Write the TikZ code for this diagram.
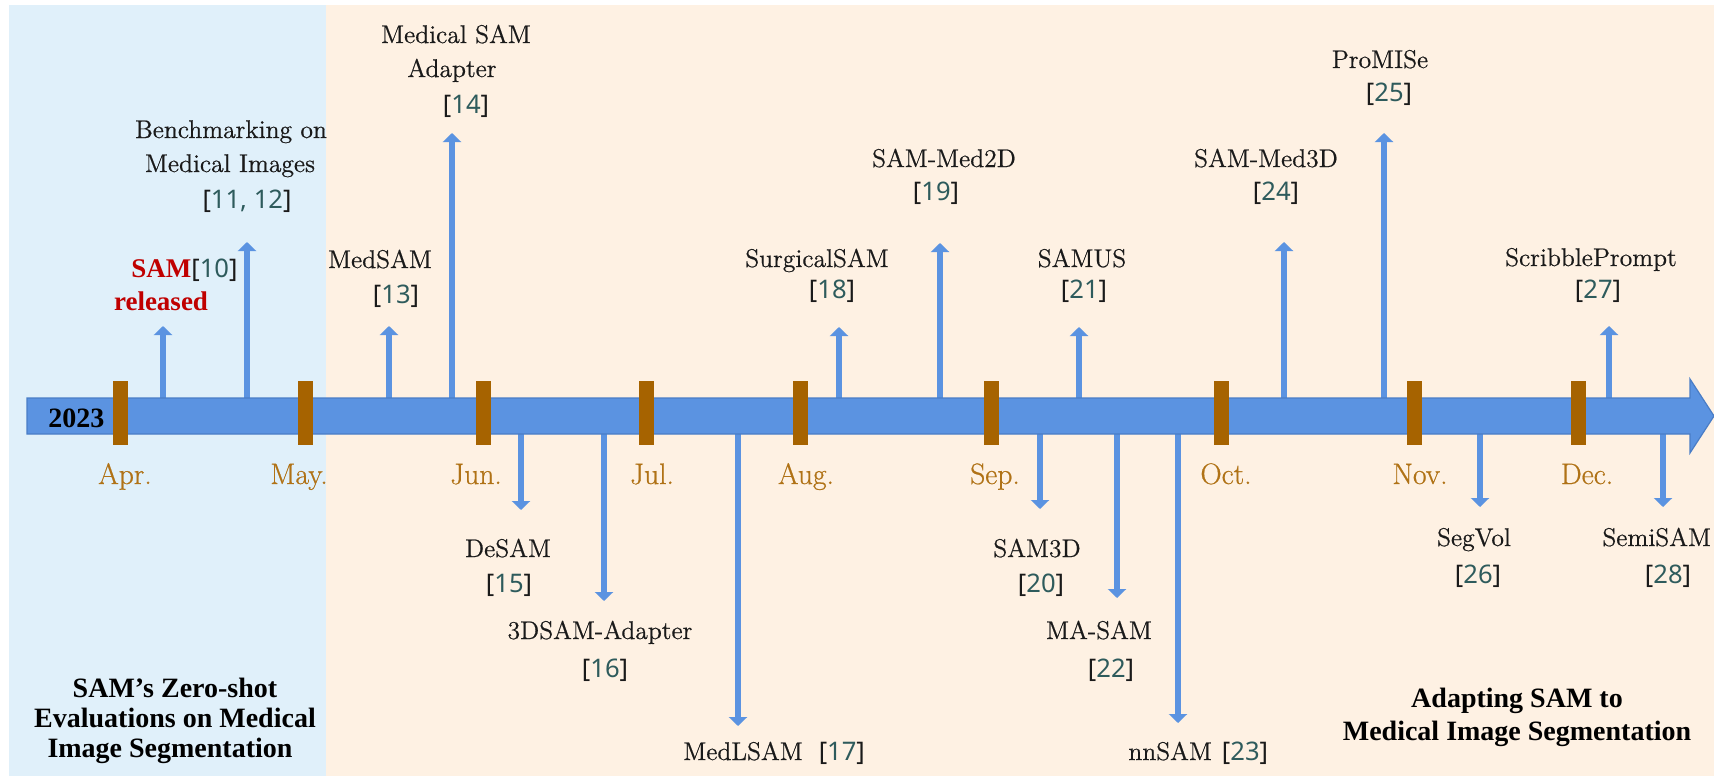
\documentclass[tikz,border=0pt]{standalone}
\usepackage{fontspec}
\setmainfont{Liberation Serif}
\newfontfamily\lmfont{Latin Modern Roman}[FakeBold=0.6]
\newfontfamily\citefont{Noto Sans}
\usetikzlibrary{arrows.meta}

\definecolor{zsbg}{HTML}{E0F0FA}
\definecolor{adbg}{HTML}{FEF1E3}
\definecolor{barblue}{HTML}{5B93E1}
\definecolor{baredge}{HTML}{4A7DC6}
\definecolor{tickbrown}{HTML}{A66300}
\definecolor{monthbrown}{HTML}{B07216}
\definecolor{citenum}{HTML}{2E5B5C}
\definecolor{samred}{HTML}{C00000}
\definecolor{ink}{HTML}{1A1A1A}

% citation in brackets: black brackets, teal number
\newcommand\rf[1]{{\citefont[\textcolor{citenum}{#1}]}}

\tikzset{
  lbl/.style={anchor=base, inner sep=0pt, text=ink, font=\lmfont\bfseries\mdseries\fontsize{12.8}{16}\selectfont},
  lblw/.style={lbl, anchor=base west},
  month/.style={anchor=base, inner sep=0pt, text=monthbrown, font=\lmfont\fontsize{14.8}{18}\selectfont},
  era/.style={anchor=base, inner sep=0pt, text=black, font=\fontsize{14}{16}\selectfont\bfseries},
  monthtick/.style={fill=tickbrown, draw=none},
  evt/.style={draw=barblue, line width=3.3pt, -{Triangle[width=9pt,length=4.5pt]}},
}

\begin{document}
\begin{tikzpicture}[x=0.5pt, y=-0.5pt]
\useasboundingbox (0,0) rectangle (1714,776);

% two era panels
\fill[zsbg] (9,5) rectangle (326,776);
\fill[adbg] (326,5) rectangle (1714,776);

% anchor points on the timeline (bar centre line) and arrow ends
\foreach \n/\x in {a10/163, a11/247, a13/389, a14/452, a18/839, a19/940, a21/1079, a24/1284, a25/1384, a27/1609,
                   a15/521, a16/604, a17/738, a20/1040, a22/1117, a23/1178, a26/1480, a28/1663}
  \coordinate (\n) at (\x,416);

\coordinate (t10) at (163,326);
\coordinate (t11) at (247,242);
\coordinate (t13) at (389,326);
\coordinate (t14) at (452,133);
\coordinate (t18) at (839,327);
\coordinate (t19) at (940,243);
\coordinate (t21) at (1079,327);
\coordinate (t24) at (1284,242);
\coordinate (t25) at (1384,133);
\coordinate (t27) at (1609,326);
\coordinate (t15) at (521,510);
\coordinate (t16) at (604,601);
\coordinate (t17) at (738,726);
\coordinate (t20) at (1040,509);
\coordinate (t22) at (1117,598);
\coordinate (t23) at (1178,723);
\coordinate (t26) at (1480,507);
\coordinate (t28) at (1663,507);

% event arrows (drawn first so the bar covers their roots)
\foreach \k in {10,11,13,14,18,19,21,24,25,27,15,16,17,20,22,23,26,28}
  \draw[evt] (a\k) -- (t\k);

% timeline bar with arrow head
\draw[fill=barblue, draw=baredge, line width=0.6pt]
  (27,398) -- (1690,398) -- (1690,379) -- (1714,416) -- (1690,453) -- (1690,434) -- (27,434) -- cycle;

\node[era, anchor=base west] (year) at (48,427) {2023};

% month ticks and labels
\foreach \x in {120,305,483,646,800,991,1221,1414,1578}
  \fill[monthtick] (\x-7.5,381) rectangle (\x+7.5,445);

\node[month] (apr) at (125,484) {Apr.};
\node[month] (may) at (299,484) {May.};
\node[month] (jun) at (476,484) {Jun.};
\node[month] (jul) at (652,484) {Jul.};
\node[month] (aug) at (806,484) {Aug.};
\node[month] (sep) at (995,484) {Sep.};
\node[month] (oct) at (1226,484) {Oct.};
\node[month] (nov) at (1420,484) {Nov.};
\node[month] (dec) at (1587,484) {Dec.};

% events above the timeline
\node[lblw] (l10) at (131,277) {{\rmfamily\fontsize{13.5}{16}\selectfont\bfseries\color{samred}SAM}\rf{10}};
\node[lbl, font=\fontsize{13.5}{16}\selectfont\bfseries, text=samred] (l10b) at (161,310) {released};

\node[lbl] (l11a) at (231,138) {Benchmarking on};
\node[lbl] (l11b) at (230,172) {Medical Images};
\node[lbl] (l11c) at (247,208) {\rf{11, 12}};

\node[lbl] (l13a) at (380,268) {MedSAM};
\node[lbl] (l13b) at (396,303) {\rf{13}};

\node[lbl] (l14a) at (456,43) {Medical SAM};
\node[lbl] (l14b) at (452,77) {Adapter};
\node[lbl] (l14c) at (466,113) {\rf{14}};

\node[lbl] (l18a) at (817,267) {SurgicalSAM};
\node[lbl] (l18b) at (832,298) {\rf{18}};

\node[lbl] (l19a) at (944,167) {SAM-Med2D};
\node[lbl] (l19b) at (936,200) {\rf{19}};

\node[lbl] (l21a) at (1082,267) {SAMUS};
\node[lbl] (l21b) at (1084,298) {\rf{21}};

\node[lbl] (l24a) at (1266,167) {SAM-Med3D};
\node[lbl] (l24b) at (1276,200) {\rf{24}};

\node[lbl] (l25a) at (1380,68) {ProMISe};
\node[lbl] (l25b) at (1389,101) {\rf{25}};

\node[lbl] (l27a) at (1591,266) {ScribblePrompt};
\node[lbl] (l27b) at (1598,298) {\rf{27}};

% events below the timeline
\node[lbl] (l15a) at (508,557) {DeSAM};
\node[lbl] (l15b) at (509,592) {\rf{15}};

\node[lbl] (l16a) at (600,639) {3DSAM-Adapter};
\node[lbl] (l16b) at (605,677) {\rf{16}};

\node[lblw] (l17) at (683,760) {MedLSAM\hspace{8pt}\rf{17}};

\node[lbl] (l20a) at (1037,557) {SAM3D};
\node[lbl] (l20b) at (1041,592) {\rf{20}};

\node[lbl] (l22a) at (1099,639) {MA-SAM};
\node[lbl] (l22b) at (1111,677) {\rf{22}};

\node[lblw] (l23) at (1128,760) {nnSAM\hspace{5pt}\rf{23}};

\node[lbl] (l26a) at (1474,546) {SegVol};
\node[lbl] (l26b) at (1478,583) {\rf{26}};

\node[lblw] (l28a) at (1602,546) {SemiSAM};
\node[lbl] (l28b) at (1668,583) {\rf{28}};

% era captions
\node[era] (zs1) at (175,697) {SAM’s Zero-shot};
\node[era] (zs2) at (175,727) {Evaluations on Medical};
\node[era] (zs3) at (170,757) {Image Segmentation};

\node[era] (ad1) at (1517,707) {Adapting SAM to};
\node[era] (ad2) at (1517,740) {Medical Image Segmentation};
\end{tikzpicture}
\end{document}
